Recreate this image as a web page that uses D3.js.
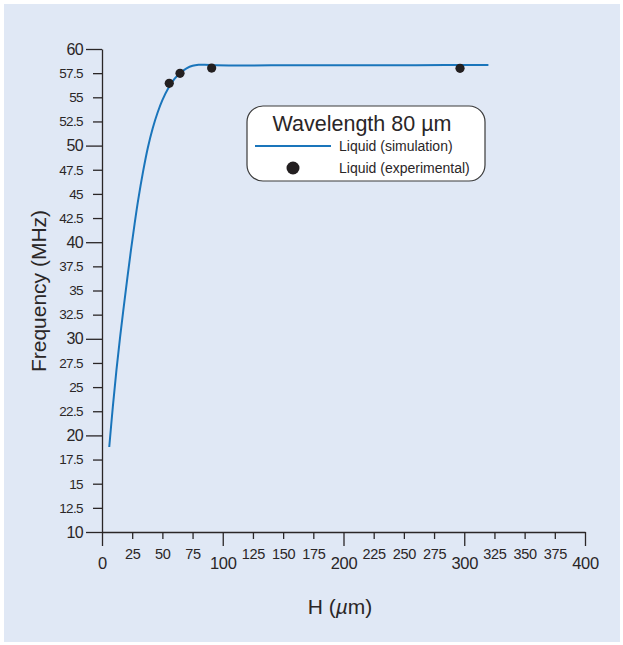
<!DOCTYPE html>
<html>
<head>
<meta charset="utf-8">
<script src="https://cdn.jsdelivr.net/npm/d3@7"></script>
<style>
  body { margin: 0; background: #fff; }
  svg { display: block; font-family: "Liberation Sans", Arial, sans-serif; }
</style>
</head>
<body>
<div class="chart"></div>
<script>
// simulated curve, H (um) vs frequency (MHz)
const simH = [6, 9, 12, 15, 18, 21, 24, 27, 30, 34, 38, 42, 46, 50, 55, 60, 65, 70, 75, 80, 85, 95, 110, 150, 200, 260, 320];
const simF = [18.8, 23.0, 26.8, 30.2, 33.3, 36.3, 39.2, 41.9, 44.4, 47.3, 49.8, 51.8, 53.4, 54.7, 55.95, 56.9, 57.55, 58.0, 58.27, 58.37, 58.37, 58.32, 58.3, 58.31, 58.32, 58.33, 58.34];
// measured points
const expH = [55.7, 64.6, 90.8, 296.5];
const expF = [56.45, 57.48, 58.03, 58.0];

const xTicks = d3.range(0, 401, 25);
const yTicks = d3.range(10, 60.1, 2.5);

const W = 623, H = 645;
const margin = {top: 49, left: 102};
const plotW = 483, plotH = 483;
const ink = "#2a2627";

const svg = d3.select(".chart").append("svg")
  .attr("width", W).attr("height", H);

svg.append("rect")
  .attr("x", 4).attr("y", 4)
  .attr("width", W - 7).attr("height", H - 7)
  .attr("fill", "#e0e8f5");

const g = svg.append("g")
  .attr("transform", "translate(" + margin.left + "," + margin.top + ")");

let x = d3.scaleLinear().domain([0, 400]).range([0, plotW]);
let y = d3.scaleLinear().domain([10, 60]).range([plotH, 0]);

const isMajorX = d => d % 100 === 0;
const isMajorY = d => d % 10 === 0;

// x axis
const xAxis = g.append("g")
  .attr("transform", "translate(0," + plotH + ")")
  .call(d3.axisBottom(x).tickValues(xTicks).tickSizeOuter(0).tickFormat(d3.format("d")));
xAxis.select(".domain").attr("stroke", ink).attr("stroke-width", 1.3);
xAxis.selectAll(".tick line")
  .attr("stroke", ink).attr("stroke-width", 1.3)
  .attr("y2", d => isMajorX(d) ? 14 : 7);
xAxis.selectAll(".tick text")
  .attr("fill", ink)
  .attr("dy", null)
  .attr("y", d => isMajorX(d) ? 37 : 27)
  .style("letter-spacing", "-0.3px")
  .style("font-size", d => isMajorX(d) ? "16.5px" : "14.5px");

// y axis
const yAxis = g.append("g")
  .call(d3.axisLeft(y).tickValues(yTicks).tickSizeOuter(0).tickFormat(d => d));
yAxis.select(".domain").attr("stroke", ink).attr("stroke-width", 1.3);
yAxis.selectAll(".tick line")
  .attr("stroke", ink).attr("stroke-width", 1.3)
  .attr("x2", d => isMajorY(d) ? -16 : -9);
yAxis.selectAll(".tick text")
  .attr("fill", ink)
  .attr("x", -19)
  .style("letter-spacing", "-0.6px")
  .style("font-size", d => isMajorY(d) ? "16px" : "13.5px");

// simulation line
const sim = simH.map((h, i) => [h, simF[i]]);
g.append("path")
  .datum(sim)
  .attr("fill", "none")
  .attr("stroke", "#1a75bb")
  .attr("stroke-width", 2)
  .attr("d", d3.line().x(d => x(d[0])).y(d => y(d[1])).curve(d3.curveCatmullRom));

// experimental points
g.selectAll(".pt")
  .data(expH.map((h, i) => [h, expF[i]]))
  .enter().append("circle")
  .attr("cx", d => x(d[0]))
  .attr("cy", d => y(d[1]))
  .attr("r", 4.6)
  .attr("fill", "#231f20");

// legend
const lg = svg.append("g");
lg.append("rect")
  .attr("x", 247).attr("y", 106)
  .attr("width", 238).attr("height", 75)
  .attr("rx", 16)
  .attr("fill", "#fff")
  .attr("stroke", "#3a3a3a").attr("stroke-width", 1.2);
lg.append("text")
  .attr("x", 362).attr("y", 131)
  .attr("text-anchor", "middle")
  .attr("fill", ink)
  .style("font-size", "21.5px")
  .text("Wavelength 80 \u00b5m");
lg.append("line")
  .attr("x1", 255).attr("x2", 331)
  .attr("y1", 146).attr("y2", 146)
  .attr("stroke", "#1a75bb").attr("stroke-width", 1.8);
lg.append("text")
  .attr("x", 339).attr("y", 151)
  .attr("fill", ink)
  .style("font-size", "14px")
  .text("Liquid (simulation)");
lg.append("circle")
  .attr("cx", 293).attr("cy", 168)
  .attr("r", 6.5)
  .attr("fill", "#231f20");
lg.append("text")
  .attr("x", 339).attr("y", 173)
  .attr("fill", ink)
  .style("font-size", "14px")
  .text("Liquid (experimental)");

// axis titles
svg.append("text")
  .attr("transform", "translate(46,291) rotate(-90)")
  .attr("text-anchor", "middle")
  .attr("fill", ink)
  .style("font-size", "21px")
  .text("Frequency (MHz)");

const xt = svg.append("text")
  .attr("x", 340).attr("y", 614)
  .attr("text-anchor", "middle")
  .attr("fill", ink)
  .style("font-size", "21px");
xt.append("tspan").text("H (");
xt.append("tspan").style("font-style", "italic").text("\u00b5");
xt.append("tspan").text("m)");
</script>
</body>
</html>
